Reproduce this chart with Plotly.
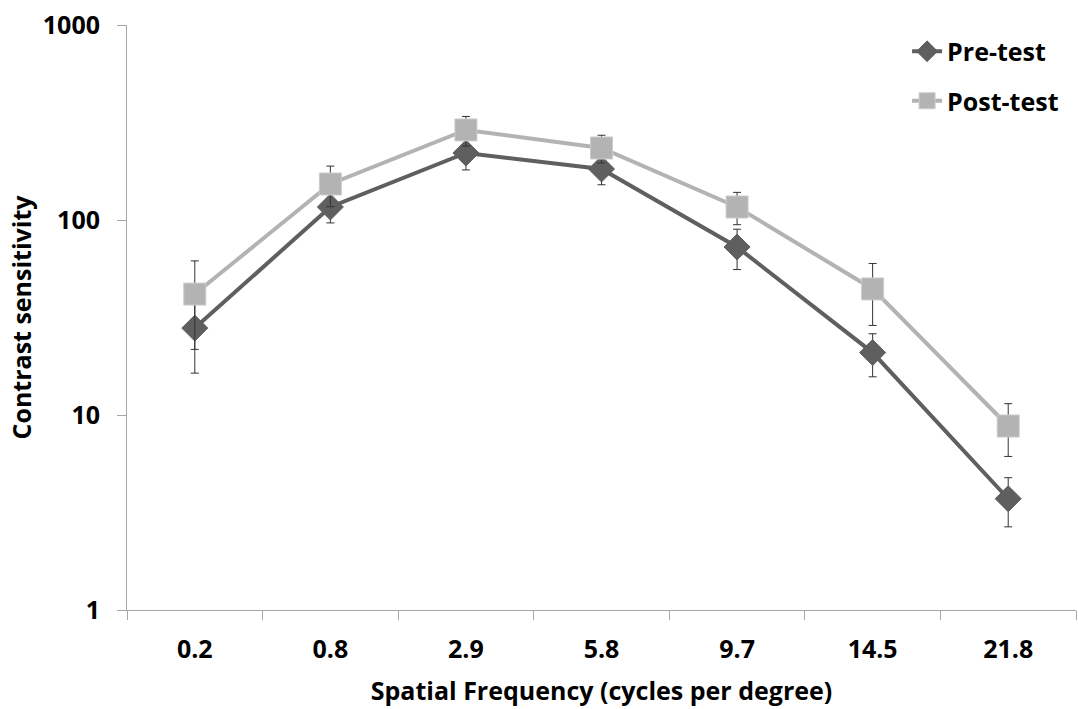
import plotly.graph_objects as go

categories = ["0.2", "0.8", "2.9", "5.8", "9.7", "14.5", "21.8"]
pre_test = [27.9, 116.6, 220.6, 182.6, 72.7, 20.9, 3.72]
pre_err = [11.5, 20, 40, 31, 17, 5.2, 1.05]
post_test = [41.7, 153, 289.6, 234, 116.6, 44.3, 8.78]
post_err = [20, 36, 50, 38, 22, 15.5, 2.65]
y_ticks = [1, 10, 100, 1000]

PRE_COLOR = "#5f5f5f"
POST_COLOR = "#b3b3b3"
TICK_FONT = dict(family="Open Sans", size=25, color="black")
TITLE_FONT = dict(family="Open Sans", size=25, color="black")

fig = go.Figure()
fig.add_trace(go.Scatter(
    x=categories, y=pre_test, name="<b>Pre-test</b>", mode="lines+markers",
    legendgroup="pre",
    line=dict(color=PRE_COLOR, width=4),
    marker=dict(symbol="diamond", size=20, color=PRE_COLOR,
                line=dict(color=PRE_COLOR, width=1)),
    error_y=dict(type="data", array=pre_err, symmetric=True,
                 color="#333333", thickness=1, width=4),
))
fig.add_trace(go.Scatter(
    x=categories, y=post_test, name="<b>Post-test</b>", mode="lines+markers",
    legendgroup="post",
    line=dict(color=POST_COLOR, width=4),
    marker=dict(symbol="square", size=22, color=POST_COLOR,
                line=dict(color="#cccccc", width=1)),
    error_y=dict(type="data", array=post_err, symmetric=True,
                 color="#333333", thickness=1, width=4),
))

fig.update_layout(
    width=1078, height=709,
    margin=dict(l=127, r=2, t=25, b=99),
    paper_bgcolor="white", plot_bgcolor="white",
    showlegend=True,
    legend=dict(x=0.822, y=0.994, xanchor="left", yanchor="top",
                font=dict(family="Open Sans", size=25, color="black"),
                tracegroupgap=14, bgcolor="rgba(0,0,0,0)"),
    xaxis=dict(
        type="category", range=[-0.5, 6.5], automargin=False,
        showline=True, linecolor="#a6a6a6", linewidth=1,
        ticks="outside", tickson="boundaries", ticklen=9, tickcolor="#a6a6a6",
        showgrid=False, tickfont=TICK_FONT, ticklabelstandoff=17,
        tickvals=categories, ticktext=["<b>%s</b>" % c for c in categories],
        title=dict(text="<b>Spatial Frequency (cycles per degree)</b>",
                   font=TITLE_FONT, standoff=18),
    ),
    yaxis=dict(
        type="log", range=[0, 3], automargin=False,
        showline=True, linecolor="#a6a6a6", linewidth=1,
        ticks="outside", ticklen=9, tickcolor="#a6a6a6",
        showgrid=False, zeroline=False, tickfont=TICK_FONT, ticklabelstandoff=12,
        tickvals=y_ticks, ticktext=["<b>%d</b>" % t for t in y_ticks],
        title=dict(text="<b>Contrast sensitivity</b>", font=TITLE_FONT, standoff=4),
    ),
)

fig.write_html("out.html", config={"displayModeBar": False},
               post_script="document.body.style.margin='0px';")
